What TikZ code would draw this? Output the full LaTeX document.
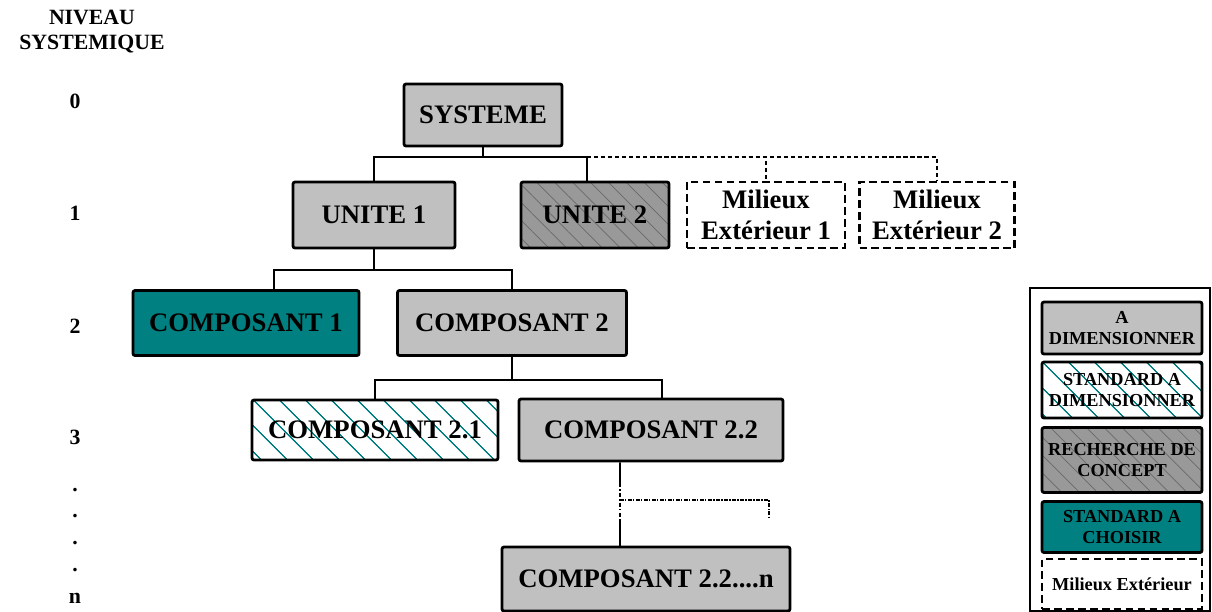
\documentclass[tikz,border=0pt]{standalone}
\usepackage{fontspec}
\setmainfont{Liberation Serif}
\usetikzlibrary{patterns.meta}

\definecolor{boxgray}{RGB}{192,192,192}
\definecolor{conceptgray}{RGB}{153,153,153}
\definecolor{hatchgray}{RGB}{105,105,105}
\definecolor{cteal}{RGB}{0,128,128}

\tikzset{
  box/.style={draw=black, line width=2pt, rounded corners=1.5pt, align=center, inner sep=0pt,
    font=\bfseries\fontsize{19}{22.5}\selectfont},
  boxsize/.style 2 args={minimum width=#1*0.025cm, minimum height=#2*0.025cm},
  todim/.style={box, fill=boxgray},
  concept/.style={box, preaction={fill=conceptgray},
    pattern={Lines[angle=-45,distance=9pt,line width=0.5pt]}, pattern color=hatchgray},
  stddim/.style={box, preaction={fill=white},
    pattern={Lines[angle=-45,distance=13pt,line width=0.9pt]}, pattern color=cteal},
  stdchoose/.style={box, fill=cteal},
  outside/.style={box, fill=white, dash pattern=on 5.5pt off 3pt, rounded corners=0pt},
  legendtxt/.style={font=\bfseries\fontsize{13}{14.5}\selectfont},
  level/.style={font=\bfseries\fontsize{15.5}{17}\selectfont},
  link/.style={line width=1.2pt}
}

\begin{document}
\begin{tikzpicture}[x=0.025cm, y=-0.025cm]
    \useasboundingbox (0,0) rectangle (1212,612);

    % niveaux
    \node(title) [level, align=center, font=\bfseries\fontsize{15.5}{17.7}\selectfont] at (92,32) {NIVEAU\\SYSTEMIQUE};
    \node(n0) [level] at (75,101) {0};
    \node(n1) [level] at (75,213) {1};
    \node(n2) [level] at (75,326) {2};
    \node(n3) [level] at (75,437) {3};
    \node(d1) [level] at (75,490) {.};
    \node(d2) [level] at (75,516) {.};
    \node(d3) [level] at (75,543) {.};
    \node(d4) [level] at (75,570) {.};
    \node(nn) [level] at (75,598) {n};

    % arbre
    \node(sys)  [todim, boxsize={158}{62}]  at (483,115)   {SYSTEME};
    \node(u1)   [todim, boxsize={162}{66}]  at (374,215)   {UNITE 1};
    \node(u2)   [concept, boxsize={148}{66}] at (595,215)  {UNITE 2};
    \node(m1)   [outside, boxsize={158}{66}] at (766,215)  {Milieux\\Extérieur 1};
    \node(m2)   [outside, boxsize={155}{66}] at (937,215)  {Milieux\\Extérieur 2};
    \node(c1)   [stdchoose, boxsize={226}{65}] at (246,323) {COMPOSANT 1};
    \node(c2)   [todim, boxsize={229}{65}]  at (512,323)   {COMPOSANT 2};
    \node(c21)  [stddim, boxsize={246}{60}] at (375,430)   {COMPOSANT 2.1};
    \node(c22)  [todim, boxsize={264}{62}]  at (651,430)   {COMPOSANT 2.2};
    \node(c22n) [todim, boxsize={288}{64}]  at (646,579)   {COMPOSANT 2.2....n};

    \coordinate(j0) at (483,157);
    \coordinate(j1) at (587,157);
    \coordinate(j2) at (374,270);
    \coordinate(j3) at (512,380);
    \coordinate(k1) at (620,483);
    \coordinate(k2) at (620,520);
    \coordinate(k3) at (620,500);
    \coordinate(k4) at (769,518);

    \draw [link] (sys) -- (j0) -| (u1);
    \draw [link] (j0) -| ([xshift=-0.2cm]u2.north);
    \draw [link, dash pattern=on 3pt off 2pt] (j1) -| (m1);
    \draw [link, dash pattern=on 3pt off 2pt] (j1) -| (m2);

    \draw [link] (u1) -- (j2) -| ([xshift=0.7cm]c1.north);
    \draw [link] (j2) -| (c2);

    \draw [link] (c2) -- (j3) -| (c21);
    \draw [link] (j3) -| ([xshift=0.275cm]c22.north);

    \draw [link] ([xshift=-0.775cm]c22.south) -- (k1);
    \draw [link, dash pattern=on 3pt off 1.5pt on 1pt off 1.5pt] (k1) -- (k2);
    \draw [link] (k2) -- (k2 |- c22n.north);
    \draw [link, dash pattern=on 2.5pt off 1.2pt on 0.8pt off 1.2pt] (k3) -| (k4);

    % legende
    \draw [line width=1.5pt] (1030,288) rectangle (1210,611);
    \node(l1) [todim, legendtxt, boxsize={160}{52}] at (1122,328)   {A\\DIMENSIONNER};
    \node(l2) [stddim, legendtxt, boxsize={160}{56}] at (1122,390)  {STANDARD A\\DIMENSIONNER};
    \node(l3) [concept, legendtxt, boxsize={160}{65}] at (1122,460) {RECHERCHE DE\\CONCEPT};
    \node(l4) [stdchoose, legendtxt, boxsize={160}{51}] at (1122,527) {STANDARD A\\CHOISIR};
    \node(l5) [outside, legendtxt, boxsize={160}{50}] at (1122,584) {Milieux Extérieur};
\end{tikzpicture}
\end{document}
